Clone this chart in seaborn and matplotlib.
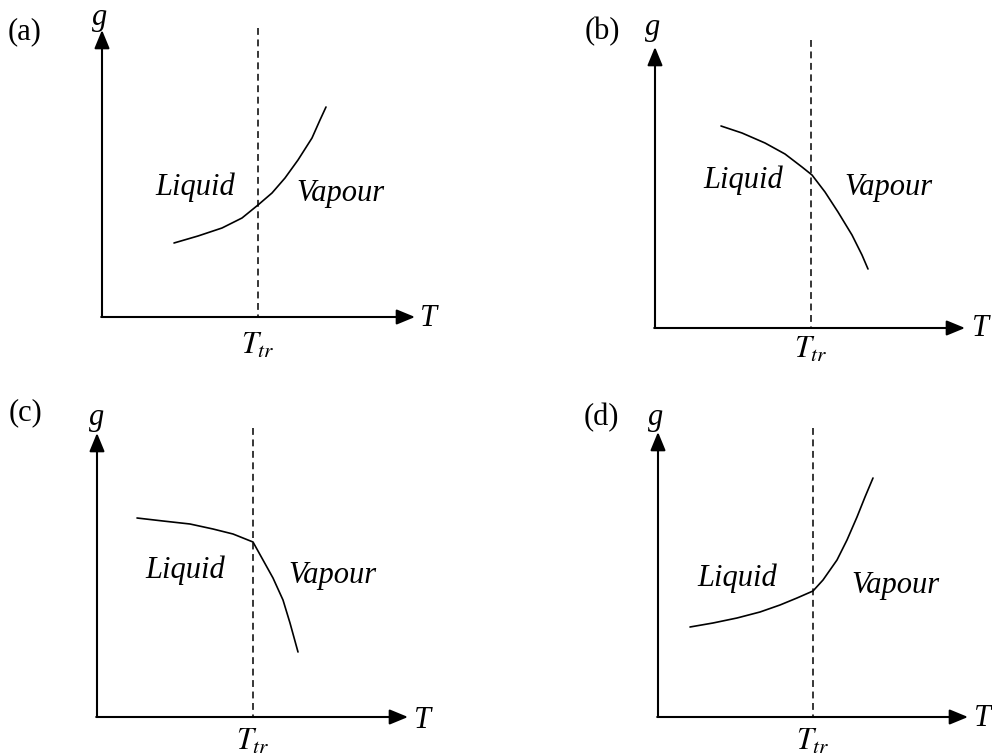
import numpy as np
import pandas as pd
import matplotlib
matplotlib.use("Agg")
import matplotlib.pyplot as plt
import seaborn as sns

# panel layout (pixel units, y downwards)
panels = ["(a)", "(b)", "(c)", "(d)"]
origin_x = [102, 655, 97, 658]
origin_y = [317, 328, 717, 717]
g_tip_y = [30, 47, 433, 432]
t_tip_x = [415, 965, 408, 968]
ttr_x = [258, 811, 253, 813]
dash_top = [28, 40, 428, 428]

panel_lbl_xy = [(25, 32), (602, 32), (25, 413), (601, 418)]
g_lbl_xy = [(100, 17), (653, 28), (97, 418), (656, 418)]
t_lbl_xy = [(428, 319), (980, 329), (423, 721), (983, 719)]
ttr_lbl_xy = [(258, 346), (811, 350), (253, 742), (813, 742)]
liquid_xy = [(195, 187), (743, 180), (185, 570), (737, 578)]
vapour_xy = [(340, 193), (888, 187), (332, 575), (895, 585)]

# g(T) curves
curve_x = [
    [174, 198, 222, 242, 258, 272, 285, 298, 312, 320, 326],
    [721, 742, 765, 785, 802, 812, 825, 838, 852, 862, 868],
    [137, 163, 190, 213, 233, 253, 263, 273, 283, 290, 298],
    [690, 713, 737, 760, 780, 797, 813, 823, 837, 847, 857, 865, 873],
]
curve_y = [
    [243, 236, 228, 218, 205, 193, 178, 160, 138, 120, 107],
    [126, 133, 143, 154, 167, 175, 192, 212, 235, 255, 269],
    [518, 521, 524, 529, 534, 542, 560, 578, 600, 623, 652],
    [627, 623, 618, 612, 605, 598, 591, 580, 560, 540, 517, 497, 478],
]

sns.set_theme(style="white")
plt.rcParams["font.family"] = ["Liberation Serif", "DejaVu Serif"]
plt.rcParams["mathtext.fontset"] = "stix"
plt.rcParams["text.color"] = "black"

fig = plt.figure(figsize=(9.92, 7.55), dpi=100)
ax = fig.add_axes([0, 0, 1, 1])
ax.set_xlim(0, 992)
ax.set_ylim(755, 0)
ax.axis("off")

rows = []
for i, p in enumerate(panels):
    for x, y in zip(curve_x[i], curve_y[i]):
        rows.append({"panel": p, "x": x, "y": y})
df = pd.DataFrame(rows)

for i, p in enumerate(panels):
    ox, oy = origin_x[i], origin_y[i]
    arrow = dict(arrowstyle="-|>,head_length=0.8,head_width=0.33",
                 color="black", lw=1.5, mutation_scale=14,
                 shrinkA=0, shrinkB=0)
    ax.annotate("", xy=(ox, g_tip_y[i]), xytext=(ox, oy), arrowprops=arrow)
    ax.annotate("", xy=(t_tip_x[i], oy), xytext=(ox - 0.8, oy), arrowprops=arrow)

    ax.plot([ttr_x[i], ttr_x[i]], [dash_top[i], oy], color="black",
            lw=1.1, linestyle=(0, (4.5, 3)))

    sub = df[df["panel"] == p]
    sns.lineplot(data=sub, x="x", y="y", ax=ax, sort=False, estimator=None,
                 color="black", lw=1.2)

    ax.text(*panel_lbl_xy[i], p, fontsize=22, ha="center", va="center")
    ax.text(*g_lbl_xy[i], "g", fontsize=22, style="italic", ha="center", va="center")
    ax.text(*t_lbl_xy[i], "T", fontsize=22, style="italic", ha="center", va="center")
    ax.text(*ttr_lbl_xy[i], r"$T_{tr}$", fontsize=22, ha="center", va="center")
    ax.text(*liquid_xy[i], "Liquid", fontsize=22, style="italic", ha="center", va="center")
    ax.text(*vapour_xy[i], "Vapour", fontsize=22, style="italic", ha="center", va="center")

ax.set_xlabel("")
ax.set_ylabel("")
fig.savefig("out.png", dpi=100)
